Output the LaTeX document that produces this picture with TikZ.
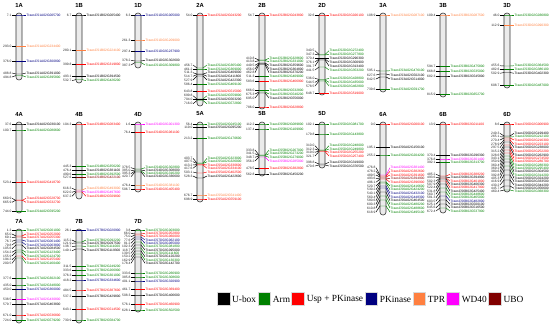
\documentclass[tikz,border=0pt]{standalone}
\usepackage{fontspec}
\setmainfont{Liberation Serif}
\newfontfamily\labfont{Liberation Sans}
\usetikzlibrary{positioning}

\definecolor{cUbox}{RGB}{0,0,0}
\definecolor{cArm}{RGB}{0,128,0}
\definecolor{cUsp}{RGB}{255,0,0}
\definecolor{cPK}{RGB}{0,0,128}
\definecolor{cTPR}{RGB}{255,128,64}
\definecolor{cWD}{RGB}{255,0,255}
\definecolor{cUBO}{RGB}{128,0,0}

% #1 name, #2 x, #3 top, #4 bottom, #5 genes: label y/chrom y/Mb/colour/id
\newcommand{\chrom}[5]{%
  \node[chrtitle] (t#1) at (#2,#3-8) {#1};
  \draw[chrbar] (#2-3,#3) rectangle (#2+3,#4);
  \foreach \yl/\yc/\pos/\col/\gid [count=\i] in {#5}{
    \node[poslab] (p#1-\i) at (#2-7,\yl) {\pos};
    \node[genelab, text=\col] (g#1-\i) at (#2+7,\yl) {TraesCS#102G\gid};
    \draw[tick] (p#1-\i.east) -- (#2-3,\yc);
    \draw[tick, \col] (#2-3,\yc) -- (#2+3,\yc) -- (g#1-\i.west);
  }
}

\begin{document}
\begin{tikzpicture}[x=0.3mm, y=-0.3mm,
    chrbar/.style={draw=black!80, line width=0.5pt, fill=black!8, rounded corners=2.5pt},
    chrtitle/.style={font=\labfont\bfseries\fontsize{5}{6}\selectfont, inner sep=0pt},
    poslab/.style={anchor=east, inner sep=0.3pt, text=black!85, font=\labfont\fontsize{2.8}{3}\selectfont},
    genelab/.style={anchor=west, inner sep=0.3pt, font=\labfont\fontsize{2.8}{3}\selectfont},
    tick/.style={line width=0.4pt},
    legsq/.style={minimum size=11pt, inner sep=0pt, draw=black!15},
    legtxt/.style={font=\fontsize{8}{9}\selectfont, inner sep=1pt}
  ]
  \useasboundingbox (0,0) rectangle (550,330);

  % ROW 1
  \chrom{1A}{19}{13}{80}{15/15/7.1/cPK/005700, 46.7/46.7/293.0/cTPR/234400,
    61.7/61.7/376.0/cPK/300800, 73/74/488.8/cUbox/391000, 77/75.5/494.8/cArm/395800}
  \chrom{1B}{79}{13}{83}{15/15/6.7/cUbox/005400, 50.7/50.7/280.1/cTPR/224100,
    64.3/64.3/399.8/cUsp/319800, 76.3/76.3/493.1/cUbox/394500, 80.7/79.5/532.7/cArm/426200}
  \chrom{1D}{138}{13}{68}{15/15/6.3/cPK/005000, 40/40/261.3/cTPR/209000,
    51.7/51.7/297.4/cPK/237900, 60.3/61/378.2/cUbox/302600, 65/62.5/387.3/cArm/309800}
  \chrom{2A}{200}{13}{106}{15/15/54.0/cUsp/043200, 65/68/456.7/cArm/365400,
    69/69/461.2/cArm/369000, 72.7/74/511.3/cUbox/409000, 76.3/74.5/514.7/cUbox/411800,
    80/76/527.9/cUbox/422300, 84.7/84.7/586.4/cArm/469100, 91.7/91.7/643.8/cUsp/515000,
    95.7/99/699.8/cArm/559800, 99.7/99.7/704.0/cUbox/563200, 103.7/100.5/716.0/cArm/572800}
  \chrom{2B}{262}{13}{109}{15/15/54.7/cUsp/043800, 58.3/60/410.8/cArm/328600,
    61.7/60.5/413.8/cArm/331000, 65.3/63/449.5/cUbox/359600, 69/63.5/456.0/cUbox/364800,
    72.7/64.5/462.8/cUbox/370200, 76.3/76.3/511.3/cArm/409000, 81.7/81.7/583.6/cUsp/466900,
    90.3/90.3/666.0/cArm/532800, 94/92/675.3/cArm/540200, 98/93/695.0/cUbox/556000,
    107/107/786.0/cUsp/628800}
  \chrom{2D}{322}{13}{95}{15/15/32.6/cUsp/026100, 50.7/54.5/340.5/cArm/272400,
    54.3/55/347.3/cArm/277800, 58.3/58.3/370.4/cUbox/296300, 62/59/376.1/cUbox/300900,
    66/60/391.7/cUbox/313400, 70/67/441.5/cArm/353200, 78.3/79.5/536.0/cArm/428800,
    82.3/80/544.5/cArm/435600, 86/81/578.5/cArm/462800, 93.3/93.3/648.7/cUsp/519000}
  \chrom{3A}{383}{13}{92}{15/15/108.9/cTPR/087100, 70.7/71/595.1/cArm/476100,
    75/74/627.6/cUbox/502100, 79/77/642.5/cUbox/514000, 89.3/89.3/739.6/cArm/591700}
  \chrom{3B}{443}{13}{97}{15/15/109.4/cTPR/087500, 66.7/66.7/594.7/cArm/475800,
    71.7/71.7/668.8/cArm/535000, 76/76/682.3/cUbox/545800, 94.3/94.3/815.9/cArm/652700}
  \chrom{3D}{507}{13}{88}{15/15/46.0/cArm/036800, 25.7/25.7/112.9/cTPR/090300,
    65.7/66/455.6/cArm/364500, 69.3/69.3/482.6/cArm/386100, 73.3/72.5/502.9/cUbox/402300,
    85.7/85.7/608.7/cArm/487000}

  % ROW 2
  \chrom{4A}{19}{122}{213}{124/124/37.6/cUbox/030100, 130/130/100.7/cArm/080600,
    182.7/182.7/523.4/cUsp/418700, 198.3/200.5/660.9/cUsp/528700, 202.3/200/665.9/cUsp/532700,
    211.7/211.7/744.0/cArm/595200}
  \chrom{4B}{79}{122}{199}{124/124/104.3/cUsp/083400, 166.7/166.7/445.3/cArm/356200,
    170.7/170.7/476.4/cUbox/381100, 174.3/174.3/490.6/cArm/392500, 177.7/177.7/527.6/cUBO/422100,
    188.3/190/616.3/cTPR/493000, 192.3/191/622.0/cWD/497600, 196.3/192/637.2/cUsp/509800}
  \chrom{4D}{138}{122}{192}{124/124/1.6/cWD/001300, 132.3/132.3/76.4/cUsp/061100,
    167.7/169/378.5/cArm/302800, 170.7/170/385.0/cUbox/308000, 173.7/171/395.3/cArm/316200,
    176.7/172/420.7/cUbox/336600, 185/185/476.4/cTPR/381100, 189/189/506.7/cUsp/405400}
  \chrom{5A}{200}{122}{202}{124/124/56.4/cArm/045100, 127.7/127.7/119.0/cUbox/095200,
    138.3/138.3/213.2/cArm/170600, 158.3/163/403.7/cArm/323000, 161.7/163.5/407.5/cArm/326000,
    165/164.5/413.2/cUsp/330600, 168.3/165/417.6/cUsp/334100, 172/173/503.1/cUsp/402500,
    176/178/528.3/cUbox/422600, 195/195/676.7/cTPR/541400, 199/199/698.9/cUsp/559100}
  \chrom{5B}{262}{122}{176}{124/124/112.2/cArm/089800, 129/129/137.4/cArm/109900,
    150/155/333.8/cArm/267000, 153.7/155.5/341.5/cArm/273200, 157.3/156/348.7/cArm/279000,
    161/157/356.2/cWD/285000, 168.7/168.7/478.5/cUsp/382800, 174/174/562.8/cUbox/450200}
  \chrom{5D}{322}{122}{168}{124/124/102.1/cArm/081700, 134/134/179.8/cArm/143800,
    145.7/150/310.0/cArm/248000, 149/150.5/312.3/cArm/249800, 152.3/151/319.0/cUsp/255200,
    156/151.5/321.7/cUsp/257400, 162.3/164/398.8/cUbox/319000, 166/165/470.6/cUbox/376500}
  \chrom{6A}{383}{122}{215}{124/124/0.0/cUsp/000100, 147.7/147.7/195.1/cUbox/156100,
    155/155/255.2/cArm/204200, 167.7/175/476.8/cWD/381400, 171.3/176/478.2/cUsp/382600,
    175/177/489.5/cUsp/391600, 178.7/178/493.6/cUBO/394900, 182.3/179/496.1/cUsp/396900,
    186/182/520.7/cArm/416600, 189.7/183/530.2/cArm/424200, 193.3/186/540.1/cPK/432100,
    197/188/560.4/cPK/448300, 200.7/192/580.6/cUbox/464500, 204.3/196/600.3/cArm/480200,
    208/200/610.8/cArm/488600, 212/206/618.9/cArm/495100}
  \chrom{6B}{443}{122}{213}{124/124/13.9/cUsp/011100, 155.7/155.7/370.4/cUbox/296300,
    159/159/376.8/cWD/301400, 162.7/162.7/392.1/cArm/313700, 174.3/176/485.2/cUsp/388200,
    177.7/177/493.6/cUbox/394900, 181/178/502.3/cUsp/401800, 184.3/179/507.9/cUbox/406300,
    187.7/181/522.4/cUsp/417900, 191/184/531.8/cUbox/425400, 194.3/188/560.7/cArm/448600,
    197.7/192/581.3/cArm/465000, 201/196/603.5/cPK/482800, 204.3/200/625.1/cUbox/500100,
    207.7/204/645.6/cUbox/516500, 211/208/672.4/cArm/537900}
  \chrom{6D}{507}{122}{192}{124/124/8.6/cUsp/006900, 133.3/136/249.3/cUbox/199400,
    136.7/137/265.1/cArm/212100, 140/138/270.4/cUsp/216300, 144.3/140/278.9/cUsp/223100,
    147.7/142/297.5/cUbox/238000, 151.7/145/315.2/cUsp/252200, 155/147/328.6/cUbox/262900,
    158.3/150/343.1/cUsp/274500, 161.7/153/350.9/cUsp/280700, 165/156/360.4/cArm/288300,
    168.3/159/369.2/cArm/295400, 171.7/162/380.6/cUbox/304500, 175/166/392.8/cArm/314200,
    178.3/170/405.3/cUbox/324200, 181.7/175/416.9/cUbox/333500, 185/180/430.2/cUbox/344200,
    188.3/186/445.7/cUbox/356600, 191/190/460.4/cArm/368300}

  % ROW 3
  \chrom{7A}{19}{229}{323}{230/230/1.3/cArm/001000, 234/236/65.0/cUsp/052000,
    237.7/237/69.1/cUsp/055300, 241.3/240/76.7/cPK/061400, 245/242/79.8/cPK/063800,
    248.7/245/105.6/cUbox/084500, 252.3/250/154.2/cArm/123400, 256/252/155.9/cArm/124700,
    259.7/256/194.3/cUsp/155400, 263.3/258/200.5/cArm/160400, 278.3/278.3/377.6/cArm/302100,
    285/285/435.0/cArm/348000, 289.3/289.3/450.0/cPK/360000, 299.3/299.3/538.5/cWD/430800,
    304.3/304.3/579.7/cUbox/463800, 315/315/671.0/cUsp/536800, 320.5/320.5/724.0/cArm/579200}
  \chrom{7B}{79}{229}{323}{230.7/230.7/26.1/cPK/020900, 240/242/115.2/cArm/092200,
    243.3/243/121.9/cUbox/097500, 246.7/246/138.7/cArm/111000, 250.7/249/149.1/cUbox/119300,
    266.7/266.7/311.5/cArm/249200, 270.7/270.7/333.6/cArm/266900, 275.7/275.7/376.3/cArm/301000,
    280/280/418.2/cPK/334600, 290/290/484.5/cUsp/387600, 296.7/296.7/537.2/cUbox/429800,
    309.3/309.3/643.1/cUsp/514500, 320/320/730.9/cArm/584700}
  \chrom{7D}{138}{229}{312}{230/230/3.8/cArm/003000, 233.3/234/66.0/cUsp/052800,
    236.7/235/75.0/cUsp/060000, 240/237/77.6/cPK/062100, 243.3/239/81.2/cPK/065000,
    246.7/242/102.3/cArm/081800, 250/245/118.7/cUbox/095000, 253.3/248/139.5/cArm/111600,
    256.7/251/150.2/cUbox/120200, 260/254/162.9/cArm/130300, 263.3/257/178.4/cUbox/142700,
    273/273/333.6/cArm/266900, 277/277/385.8/cArm/308600, 281/281/401.1/cPK/320900,
    289.3/289.3/461.7/cUsp/369400, 295/295/508.3/cUbox/406600, 304.3/304.3/576.1/cUsp/460900,
    310/310/628.1/cArm/502500}

  % Legend
  \node[legsq, fill=cUbox] (sqUbox) at (223.5,299) {};
  \node[legtxt, right=0.5pt of sqUbox] (txUbox) {U-box};
  \node[legsq, fill=cArm, right=0pt of txUbox] (sqArm) {};
  \node[legtxt, right=0.5pt of sqArm] (txArm) {Arm};
  \node[legsq, fill=cUsp, right=0pt of txArm] (sqUsp) {};
  \node[legtxt, right=0.5pt of sqUsp] (txUsp) {Usp + PKinase};
  \node[legsq, fill=cPK, right=0pt of txUsp] (sqPK) {};
  \node[legtxt, right=0.5pt of sqPK] (txPK) {PKinase};
  \node[legsq, fill=cTPR, right=0pt of txPK] (sqTPR) {};
  \node[legtxt, right=0.5pt of sqTPR] (txTPR) {TPR};
  \node[legsq, fill=cWD, right=0pt of txTPR] (sqWD) {};
  \node[legtxt, right=0.5pt of sqWD] (txWD) {WD40};
  \node[legsq, fill=cUBO, right=0pt of txWD] (sqUBO) {};
  \node[legtxt, right=0.5pt of sqUBO] (txUBO) {UBO};
\end{tikzpicture}
\end{document}
